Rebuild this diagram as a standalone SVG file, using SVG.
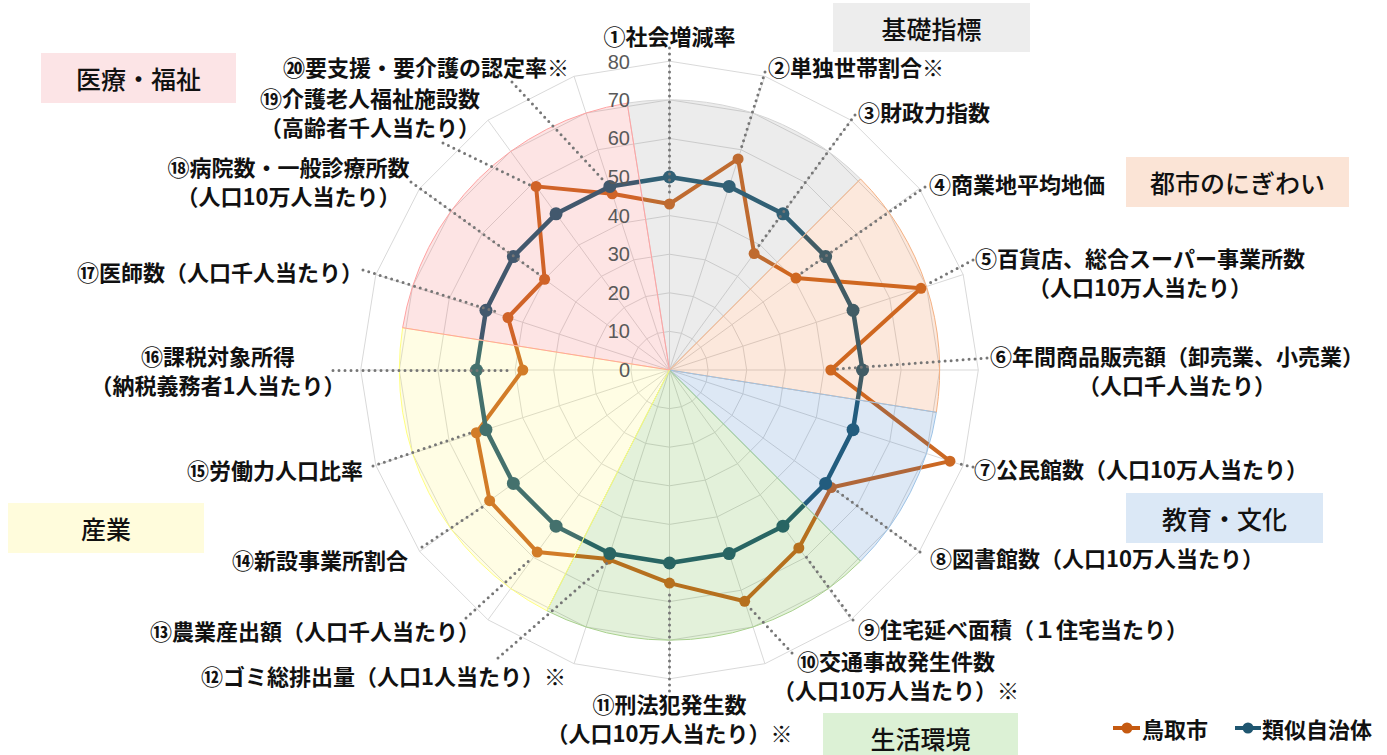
<svg xmlns="http://www.w3.org/2000/svg" xmlns:xlink="http://www.w3.org/1999/xlink" width="1387" height="755" viewBox="0 0 1387 755">
<style>
.lbl{font-family:"Noto Sans CJK JP","Noto Sans CJK SC",sans-serif;font-size:22px;font-weight:700;fill:#111;dominant-baseline:central}
.cat{font-family:"Noto Sans CJK JP","Noto Sans CJK SC",sans-serif;font-size:25px;font-weight:500;fill:#111;dominant-baseline:central;text-anchor:middle}
.tick{font-family:"Liberation Sans",Arial,sans-serif;font-size:20px;fill:#595959;text-anchor:end;dominant-baseline:central}
.grid{fill:none;stroke:#d9d9d9;stroke-width:1}
.lead{fill:none;stroke:#767676;stroke-width:3;stroke-linecap:round;stroke-dasharray:0 6}
.lineO{fill:none;stroke:#CB6823;stroke-width:4;stroke-linejoin:round}
.lineB{fill:none;stroke:#245B74;stroke-width:4.5;stroke-linejoin:round}
.dotO{fill:#CB6823}
.dotB{fill:#245B74}
.sec{fill-opacity:0.15;stroke-width:1}
</style>
<defs>
<polygon id="ring" points="0,-100 30.902,-95.106 58.779,-80.902 80.902,-58.779 95.106,-30.902 100,0 95.106,30.902 80.902,58.779 58.779,80.902 30.902,95.106 0,100 -30.902,95.106 -58.779,80.902 -80.902,58.779 -95.106,30.902 -100,0 -95.106,-30.902 -80.902,-58.779 -58.779,-80.902 -30.902,-95.106" vector-effect="non-scaling-stroke"/>
</defs>
<rect width="1387" height="755" fill="#ffffff"/>

<g id="chart" transform="translate(669.5,370)">
  <g id="grid" class="grid">
    <use xlink:href="#ring" transform="scale(0.386)"/>
    <use xlink:href="#ring" transform="scale(0.772)"/>
    <use xlink:href="#ring" transform="scale(1.158)"/>
    <use xlink:href="#ring" transform="scale(1.544)"/>
    <use xlink:href="#ring" transform="scale(1.93)"/>
    <use xlink:href="#ring" transform="scale(2.316)"/>
    <use xlink:href="#ring" transform="scale(2.702)"/>
    <use xlink:href="#ring" transform="scale(3.088)"/>
    <path d="M0,-308.8 L0,308.8 M95.43,-293.69 L-95.43,293.69 M181.51,-249.83 L-181.51,249.83 M249.83,-181.51 L-249.83,181.51 M293.69,-95.43 L-293.69,95.43 M308.8,0 L-308.8,0 M293.69,95.43 L-293.69,-95.43 M249.83,181.51 L-249.83,-181.51 M181.51,249.83 L-181.51,-249.83 M95.43,293.69 L-95.43,-293.69"/>
  </g>
  <g id="series-tottori">
    <polygon class="lineO" points="0,-166 68.59,-211.09 84.63,-116.48 126.48,-91.89 251.47,-81.71 161.35,0 280.46,91.13 161.76,117.53 129.33,178 75.15,231.28 0,213.07 -61.43,189.06 -132.28,182.06 -179.88,130.69 -193.1,62.74 -146.68,0 -161.53,-52.48 -124.91,-90.75 -133.41,-183.62 -57.26,-176.21"/>
    <g class="dotO">
      <circle cx="0" cy="-166" r="5.5"/><circle cx="68.59" cy="-211.09" r="5.5"/><circle cx="84.63" cy="-116.48" r="5.5"/><circle cx="126.48" cy="-91.89" r="5.5"/><circle cx="251.47" cy="-81.71" r="5.5"/><circle cx="161.35" cy="0" r="5.5"/><circle cx="280.46" cy="91.13" r="5.5"/><circle cx="161.76" cy="117.53" r="5.5"/><circle cx="129.33" cy="178" r="5.5"/><circle cx="75.15" cy="231.28" r="5.5"/><circle cx="0" cy="213.07" r="5.5"/><circle cx="-61.43" cy="189.06" r="5.5"/><circle cx="-132.28" cy="182.06" r="5.5"/><circle cx="-179.88" cy="130.69" r="5.5"/><circle cx="-193.1" cy="62.74" r="5.5"/><circle cx="-146.68" cy="0" r="5.5"/><circle cx="-161.53" cy="-52.48" r="5.5"/><circle cx="-124.91" cy="-90.75" r="5.5"/><circle cx="-133.41" cy="-183.62" r="5.5"/><circle cx="-57.26" cy="-176.21" r="5.5"/>
    </g>
  </g>
  <g id="series-similar">
    <polygon class="lineB" points="0,-193 59.64,-183.55 113.44,-156.14 156.14,-113.44 183.55,-59.64 193,0 183.55,59.64 156.14,113.44 113.44,156.14 59.64,183.55 0,193 -59.64,183.55 -113.44,156.14 -156.14,113.44 -183.55,59.64 -193,0 -183.55,-59.64 -156.14,-113.44 -113.44,-156.14 -59.64,-183.55"/>
    <g class="dotB">
      <circle cx="0" cy="-193" r="6.5"/><circle cx="59.64" cy="-183.55" r="6.5"/><circle cx="113.44" cy="-156.14" r="6.5"/><circle cx="156.14" cy="-113.44" r="6.5"/><circle cx="183.55" cy="-59.64" r="6.5"/><circle cx="193" cy="0" r="6.5"/><circle cx="183.55" cy="59.64" r="6.5"/><circle cx="156.14" cy="113.44" r="6.5"/><circle cx="113.44" cy="156.14" r="6.5"/><circle cx="59.64" cy="183.55" r="6.5"/><circle cx="0" cy="193" r="6.5"/><circle cx="-59.64" cy="183.55" r="6.5"/><circle cx="-113.44" cy="156.14" r="6.5"/><circle cx="-156.14" cy="113.44" r="6.5"/><circle cx="-183.55" cy="59.64" r="6.5"/><circle cx="-193" cy="0" r="6.5"/><circle cx="-183.55" cy="-59.64" r="6.5"/><circle cx="-156.14" cy="-113.44" r="6.5"/><circle cx="-113.44" cy="-156.14" r="6.5"/><circle cx="-59.64" cy="-183.55" r="6.5"/>
    </g>
  </g>
  <g id="sectors">
    <path id="sec-kiso" class="sec" fill="#7f7f7f" stroke="#d6d6d6" d="M0,0 L-42.27,-266.87 A270.2,270.2 0 0 1 191.06,-191.06 Z"/>
    <path id="sec-toshi" class="sec" fill="#EB6616" stroke="#f4b183" d="M0,0 L191.06,-191.06 A270.2,270.2 0 0 1 266.87,42.27 Z"/>
    <path id="sec-kyoiku" class="sec" fill="#1C66BC" stroke="#9dc3e6" d="M0,0 L266.87,42.27 A270.2,270.2 0 0 1 191.06,191.06 Z"/>
    <path id="sec-seikatsu" class="sec" fill="#44A209" stroke="#a9d18e" d="M0,0 L191.06,191.06 A270.2,270.2 0 0 1 -122.67,240.75 Z"/>
    <path id="sec-sangyo" class="sec" fill="#FFF24B" stroke="#ffff80" d="M0,0 L-122.67,240.75 A270.2,270.2 0 0 1 -266.87,-42.27 Z"/>
    <path id="sec-iryo" class="sec" fill="#F24B4B" stroke="#ffa3a3" d="M0,0 L-266.87,-42.27 A270.2,270.2 0 0 1 -42.27,-266.87 Z"/>
  </g>
</g>

<g id="ticks" class="tick">
  <text x="630" y="370">0</text>
  <text x="630" y="331.4">10</text>
  <text x="630" y="292.8">20</text>
  <text x="630" y="254.2">30</text>
  <text x="630" y="215.6">40</text>
  <text x="630" y="177">50</text>
  <text x="630" y="138.4">60</text>
  <text x="630" y="99.8">70</text>
  <text x="630" y="61.6">80</text>
</g>

<g id="connectors" class="lead">
  <line x1="669.5" y1="48" x2="669.5" y2="198"/>
  <line x1="765" y1="72" x2="740" y2="152"/>
  <line x1="855" y1="115" x2="757" y2="248"/>
  <line x1="925" y1="187" x2="800" y2="274"/>
  <line x1="973" y1="260" x2="928" y2="284"/>
  <line x1="987" y1="358" x2="837" y2="369"/>
  <line x1="973" y1="467" x2="956" y2="463"/>
  <line x1="920" y1="552" x2="837" y2="491"/>
  <line x1="853" y1="620" x2="804" y2="554"/>
  <line x1="792" y1="653" x2="749" y2="607"/>
  <line x1="669.5" y1="691" x2="669.5" y2="590"/>
  <line x1="498" y1="658" x2="607" y2="563"/>
  <line x1="466" y1="618" x2="532" y2="558"/>
  <line x1="422" y1="547" x2="484" y2="506"/>
  <line x1="373" y1="466" x2="470" y2="433"/>
  <line x1="333" y1="370.5" x2="513" y2="370.5"/>
  <line x1="363" y1="270" x2="500" y2="313"/>
  <line x1="411" y1="182" x2="540" y2="275"/>
  <line x1="443" y1="143" x2="532" y2="186"/>
  <line x1="512" y1="82" x2="606" y2="183"/>
</g>

<g id="label-01" class="lbl"><text x="669.5" y="35" text-anchor="middle">①社会増減率</text></g>
<g id="label-02" class="lbl"><text x="768" y="66">②単独世帯割合※</text></g>
<g id="label-03" class="lbl"><text x="858" y="111">③財政力指数</text></g>
<g id="label-04" class="lbl"><text x="929" y="183">④商業地平均地価</text></g>
<g id="label-05" class="lbl"><text x="1140" y="256.5" text-anchor="middle">⑤百貨店、総合スーパー事業所数</text><text x="1140" y="285.5" text-anchor="middle">（人口10万人当たり）</text></g>
<g id="label-06" class="lbl"><text x="1177" y="354.5" text-anchor="middle">⑥年間商品販売額（卸売業、小売業）</text><text x="1177" y="383.5" text-anchor="middle">（人口千人当たり）</text></g>
<g id="label-07" class="lbl"><text x="974" y="468">⑦公民館数（人口10万人当たり）</text></g>
<g id="label-08" class="lbl"><text x="930" y="557">⑧図書館数（人口10万人当たり）</text></g>
<g id="label-09" class="lbl"><text x="858" y="628">⑨住宅延べ面積（１住宅当たり）</text></g>
<g id="label-10" class="lbl"><text x="896" y="659.5" text-anchor="middle">⑩交通事故発生件数</text><text x="896" y="688.5" text-anchor="middle">（人口10万人当たり）※</text></g>
<g id="label-11" class="lbl"><text x="669.5" y="703" text-anchor="middle">⑪刑法犯発生数</text><text x="669.5" y="732" text-anchor="middle">（人口10万人当たり）※</text></g>
<g id="label-12" class="lbl"><text x="201" y="675">⑫ゴミ総排出量（人口1人当たり）※</text></g>
<g id="label-13" class="lbl"><text x="150" y="630">⑬農業産出額（人口千人当たり）</text></g>
<g id="label-14" class="lbl"><text x="232" y="559">⑭新設事業所割合</text></g>
<g id="label-15" class="lbl"><text x="187" y="469">⑮労働力人口比率</text></g>
<g id="label-16" class="lbl"><text x="218" y="354.5" text-anchor="middle">⑯課税対象所得</text><text x="218" y="383.5" text-anchor="middle">（納税義務者1人当たり）</text></g>
<g id="label-17" class="lbl"><text x="77" y="271">⑰医師数（人口千人当たり）</text></g>
<g id="label-18" class="lbl"><text x="288.5" y="166" text-anchor="middle">⑱病院数・一般診療所数</text><text x="288.5" y="195" text-anchor="middle">（人口10万人当たり）</text></g>
<g id="label-19" class="lbl"><text x="370" y="96.5" text-anchor="middle">⑲介護老人福祉施設数</text><text x="370" y="125.5" text-anchor="middle">（高齢者千人当たり）</text></g>
<g id="label-20" class="lbl"><text x="283" y="66">⑳要支援・要介護の認定率※</text></g>

<g id="cat-kiso"><rect x="833" y="3" width="197" height="49" fill="#ededed"/><text class="cat" x="931.5" y="27.5">基礎指標</text></g>
<g id="cat-iryo"><rect x="41" y="53" width="195" height="50" fill="#fce4e6"/><text class="cat" x="138.5" y="78">医療・福祉</text></g>
<g id="cat-toshi"><rect x="1126" y="157" width="223" height="50" fill="#fbe4d6"/><text class="cat" x="1237.5" y="182">都市のにぎわい</text></g>
<g id="cat-kyoiku"><rect x="1126" y="493" width="197" height="50" fill="#dbe8f6"/><text class="cat" x="1224.5" y="518">教育・文化</text></g>
<g id="cat-seikatsu"><rect x="823" y="713" width="195" height="50" fill="#dcf1d5"/><text class="cat" x="920.5" y="737.5">生活環境</text></g>
<g id="cat-sangyo"><rect x="8" y="503" width="196" height="50" fill="#fffcdc"/><text class="cat" x="106" y="528">産業</text></g>

<g id="legend">
  <line x1="1113" y1="728" x2="1140" y2="728" stroke="#C55A11" stroke-width="4"/>
  <circle cx="1127" cy="728" r="5.5" fill="#C55A11"/>
  <text class="lbl" x="1142" y="728">鳥取市</text>
  <line x1="1235" y1="728" x2="1261" y2="728" stroke="#1F5670" stroke-width="4"/>
  <circle cx="1248" cy="728" r="5.5" fill="#1F5670"/>
  <text class="lbl" x="1262" y="728">類似自治体</text>
</g>
</svg>
